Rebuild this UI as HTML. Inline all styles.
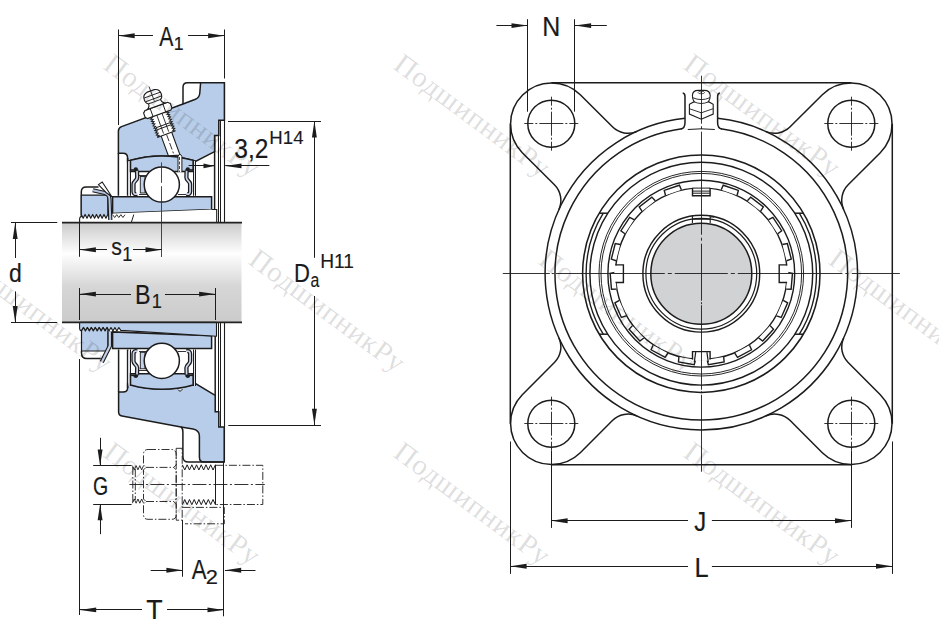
<!DOCTYPE html>
<html><head><meta charset="utf-8"><title>Flanged bearing unit</title>
<style>
html,body{margin:0;padding:0;background:#fff;}
body{width:939px;height:629px;overflow:hidden;font-family:"Liberation Sans",sans-serif;}
svg{display:block;}
svg text{font-family:"Liberation Sans",sans-serif;}
svg text.wm{font-family:"Liberation Serif",serif;font-size:29px;fill:#000;fill-opacity:0.145;letter-spacing:0.7px;}
</style></head>
<body>
<svg width="939" height="629" viewBox="0 0 939 629">
<defs>
<linearGradient id="shaft" x1="0" y1="0" x2="0" y2="1">
<stop offset="0" stop-color="#cbcbcb"/><stop offset="0.31" stop-color="#fefefe"/><stop offset="0.64" stop-color="#d6d6d6"/><stop offset="1" stop-color="#cbcbcb"/>
</linearGradient>
</defs>
<rect width="939" height="629" fill="#fff"/>
<rect x="62" y="222.7" width="179.5" height="99.7" fill="url(#shaft)"/>
<rect x="214.6" y="135.6" width="4.2" height="87.1" fill="#fff"/>
<rect x="218.8" y="120.3" width="5.6" height="102.4" fill="#fff"/>
<line x1="218.5" y1="120.3" x2="218.5" y2="222.7" stroke="#1c1c1c" stroke-width="1.0" />
<line x1="220.5" y1="120.3" x2="220.5" y2="222.7" stroke="#1c1c1c" stroke-width="1.0" />
<line x1="218.2" y1="120.5" x2="220" y2="120.5" stroke="#1c1c1c" stroke-width="1.0" />
<line x1="224.5" y1="82.8" x2="224.5" y2="222.7" stroke="#1c1c1c" stroke-width="1.1" />
<line x1="214.6" y1="135.6" x2="214.6" y2="222.7" stroke="#1c1c1c" stroke-width="1.5" />
<line x1="218.5" y1="322.4" x2="218.5" y2="411.7" stroke="#1c1c1c" stroke-width="1.0" />
<line x1="220.5" y1="322.4" x2="220.5" y2="427" stroke="#1c1c1c" stroke-width="1.0" />
<line x1="224.5" y1="322.4" x2="224.5" y2="462.1" stroke="#1c1c1c" stroke-width="1.1" />
<line x1="215.2" y1="322.4" x2="215.2" y2="411.7" stroke="#1c1c1c" stroke-width="1.5" />
<path d="M224.4 82.8 L200.6 82.8 L199.8 93 Q199.5 97.5 195.4 99.3 L183 104 L121.5 126.6 Q118.4 127.8 118.4 131 L118.4 153.3 L123 153.3 Q127.6 153.3 127.6 158 L127.6 161.2 A116.5 116.5 0 0 1 196 161.2 L214.6 151.6 L214.6 135.6 L218.8 135.6 L218.8 120.3 L224.4 120.3 Z" fill="#b8cde9" stroke="#1c1c1c" stroke-width="1.5" />
<path d="M200.6 82.8 L187.5 82.8 Q183 82.8 183 87.3 L183 104" fill="none" stroke="#1c1c1c" stroke-width="1.5" />
<path d="M118.4 153.3 L118.4 195.8 M127.6 158 L127.6 195.8" fill="none" stroke="#1c1c1c" stroke-width="1.5" />
<rect x="128.3" y="161" width="2.2" height="34.5" fill="#dfe3ea"/>
<rect x="193.1" y="161" width="2.6" height="34.5" fill="#dfe3ea"/>
<line x1="130.5" y1="160.6" x2="130.5" y2="195.8" stroke="#1c1c1c" stroke-width="1.0" />
<line x1="193.5" y1="160.6" x2="193.5" y2="195.8" stroke="#1c1c1c" stroke-width="1.0" />
<line x1="195.5" y1="160.6" x2="195.5" y2="195.8" stroke="#1c1c1c" stroke-width="1.0" />
<path d="M118.6 392 L123 392 Q127.6 392 127.6 388 L127.6 383.9 A116.5 116.5 0 0 0 196 383.9 L215.2 395.4 L215.2 411.7 L218.8 411.7 L218.8 427 L224.2 427 L224.2 462.1 L204 462.1 Q199.4 462.1 199.4 457 L199.4 436 Q199.4 430.3 193 429 L181 426.9 L122 416 Q118.6 415.3 118.6 412 Z" fill="#b8cde9" stroke="#1c1c1c" stroke-width="1.5" />
<path d="M181 426.9 Q182.9 428.5 182.9 432 L182.9 456.5 Q182.9 462.1 188.5 462.1 L224.2 462.1" fill="none" stroke="#1c1c1c" stroke-width="1.5" />
<path d="M118.6 392 L118.6 349.5 M127.6 388 L127.6 349.5" fill="none" stroke="#1c1c1c" stroke-width="1.5" />
<rect x="128.3" y="351" width="2.2" height="34.5" fill="#dfe3ea"/>
<rect x="193.1" y="351" width="2.6" height="34.5" fill="#dfe3ea"/>
<line x1="130.5" y1="349.5" x2="130.5" y2="386" stroke="#1c1c1c" stroke-width="1.0" />
<line x1="193.5" y1="349.5" x2="193.5" y2="386" stroke="#1c1c1c" stroke-width="1.0" />
<line x1="195.5" y1="349.5" x2="195.5" y2="386" stroke="#1c1c1c" stroke-width="1.0" />
<path d="M130.5 160.3 A116.5 116.5 0 0 1 193.1 160.3 L193.1 171.5 L130.5 171.5 Z" fill="#b8cde9" stroke="#1c1c1c" stroke-width="1.5" />
<path d="M112.6 196.8 L211.6 196.8 L211.6 209.5 L112.6 213.4 Z" fill="#b8cde9" stroke="#1c1c1c" stroke-width="1.5" />
<rect x="140.3" y="176.5" width="4.8" height="16.5" fill="#c5d3ea" stroke="#1c1c1c" stroke-width="0.9"/>
<line x1="139" y1="175.5" x2="147" y2="175.5" stroke="#1c1c1c" stroke-width="0.9" />
<line x1="139" y1="194.5" x2="147" y2="194.5" stroke="#1c1c1c" stroke-width="0.9" />
<line x1="178" y1="194.5" x2="188" y2="194.5" stroke="#1c1c1c" stroke-width="0.9" />
<path d="M137 170.7 L137.2 177.5 C137.2 180.5 133.6 181 133.5 184 L133.5 191.5 C133.5 193.7 135 194.7 136.9 193.9" fill="none" stroke="#1c1c1c" stroke-width="4.3" stroke-linecap="butt"/>
<path d="M137 170.7 L137.2 177.5 C137.2 180.5 133.6 181 133.5 184 L133.5 191.5 C133.5 193.7 135 194.7 136.9 193.9" fill="none" stroke="#ccd6ea" stroke-width="1.7" stroke-linecap="round"/>
<line x1="130.6" y1="170" x2="138.3" y2="170" stroke="#1c1c1c" stroke-width="1.6" />
<ellipse cx="135.8" cy="169.1" rx="2.1" ry="1.8" fill="#1c1c1c"/>
<path d="M186.6 170.7 L186.4 177.5 C186.4 180.5 190 181 190.1 184 L190.1 191.5 C190.1 193.7 188.6 194.7 186.7 193.9" fill="none" stroke="#1c1c1c" stroke-width="4.3" stroke-linecap="butt"/>
<path d="M186.6 170.7 L186.4 177.5 C186.4 180.5 190 181 190.1 184 L190.1 191.5 C190.1 193.7 188.6 194.7 186.7 193.9" fill="none" stroke="#ccd6ea" stroke-width="1.7" stroke-linecap="round"/>
<line x1="193" y1="170" x2="185.3" y2="170" stroke="#1c1c1c" stroke-width="1.6" />
<ellipse cx="187.8" cy="169.1" rx="2.1" ry="1.8" fill="#1c1c1c"/>
<circle cx="161.8" cy="184.5" r="17.6" fill="#fff" stroke="#1c1c1c" stroke-width="1.5" />
<path d="M130.5 385 A116.5 116.5 0 0 0 193.1 385 L193.1 373.8 L130.5 373.8 Z" fill="#b8cde9" stroke="#1c1c1c" stroke-width="1.5" />
<path d="M112.6 348.5 L211.6 348.5 L211.6 335.8 L112.6 331.9 Z" fill="#b8cde9" stroke="#1c1c1c" stroke-width="1.5" />
<rect x="140.3" y="352.3" width="4.8" height="16.5" fill="#c5d3ea" stroke="#1c1c1c" stroke-width="0.9"/>
<line x1="139" y1="370.5" x2="147" y2="370.5" stroke="#1c1c1c" stroke-width="0.9" />
<line x1="139" y1="351.5" x2="147" y2="351.5" stroke="#1c1c1c" stroke-width="0.9" />
<line x1="178" y1="351.5" x2="188" y2="351.5" stroke="#1c1c1c" stroke-width="0.9" />
<path d="M137 374.6 L137.2 367.8 C137.2 364.8 133.6 364.3 133.5 361.3 L133.5 353.8 C133.5 351.6 135 350.6 136.9 351.4" fill="none" stroke="#1c1c1c" stroke-width="4.3" stroke-linecap="butt"/>
<path d="M137 374.6 L137.2 367.8 C137.2 364.8 133.6 364.3 133.5 361.3 L133.5 353.8 C133.5 351.6 135 350.6 136.9 351.4" fill="none" stroke="#ccd6ea" stroke-width="1.7" stroke-linecap="round"/>
<line x1="130.6" y1="375.3" x2="138.3" y2="375.3" stroke="#1c1c1c" stroke-width="1.6" />
<ellipse cx="135.8" cy="376.2" rx="2.1" ry="1.8" fill="#1c1c1c"/>
<path d="M186.6 374.6 L186.4 367.8 C186.4 364.8 190 364.3 190.1 361.3 L190.1 353.8 C190.1 351.6 188.6 350.6 186.7 351.4" fill="none" stroke="#1c1c1c" stroke-width="4.3" stroke-linecap="butt"/>
<path d="M186.6 374.6 L186.4 367.8 C186.4 364.8 190 364.3 190.1 361.3 L190.1 353.8 C190.1 351.6 188.6 350.6 186.7 351.4" fill="none" stroke="#ccd6ea" stroke-width="1.7" stroke-linecap="round"/>
<line x1="193" y1="375.3" x2="185.3" y2="375.3" stroke="#1c1c1c" stroke-width="1.6" />
<ellipse cx="187.8" cy="376.2" rx="2.1" ry="1.8" fill="#1c1c1c"/>
<circle cx="161.8" cy="360.8" r="17.6" fill="#fff" stroke="#1c1c1c" stroke-width="1.5" />
<path d="M79.6 222.7 L79.6 216.6 L112.6 216.6 L112.6 213.4 L211.6 209.5 L216.7 209.5 L216.7 222.7 Z" fill="#fff"/>
<path d="M79.6 222.7 L79.6 218.8 Q79.7 216.9 81.3 216.6" fill="none" stroke="#1c1c1c" stroke-width="1.1" />
<path d="M211.6 209.5 L216.7 209.5 L216.7 222.7" fill="none" stroke="#1c1c1c" stroke-width="1.1" />
<line x1="133.8" y1="214.5" x2="131.4" y2="222.2" stroke="#1c1c1c" stroke-width="1.0" />
<path d="M81.3 217 L81.3 192 Q81.3 187.1 86.2 187.1 L98.5 187.1" fill="none" stroke="#1c1c1c" stroke-width="1.5" />
<polygon points="81.3,195.1 81.3,214.4 83.19,218.2 85.09,214.4 86.98,218.2 88.87,214.4 90.76,218.2 92.66,214.4 94.55,218.2 96.44,214.4 98.34,218.2 100.23,214.4 102.12,218.2 104.01,214.4 105.91,218.2 107.8,214.4 107.8,195.1" fill="#b8cde9" stroke="#1c1c1c" stroke-width="1.15" stroke-linejoin="round"/>
<polyline points="112.6,214.7 114.67,217.5 116.73,214.7 118.8,217.5 120.87,214.7 122.93,217.5 125,214.7" fill="none" stroke="#1c1c1c" stroke-width="0.9"/>
<path d="M92.8 190.3 L104.8 193 Q109.2 194.2 109.5 199 L110.3 220" fill="none" stroke="#1c1c1c" stroke-width="4.2" stroke-linejoin="round"/>
<path d="M92.8 190.3 L104.8 193 Q109.2 194.2 109.5 199 L110.3 220" fill="none" stroke="#b4c3de" stroke-width="2.0" stroke-linejoin="round"/>
<path d="M98.4 184.6 L102.2 182 L111.9 196.8 L106 192.5 Z" fill="#fff" stroke="#1c1c1c" stroke-width="1.1" />
<path d="M79.6 322.4 L79.6 328.6 Q79.8 330.7 81.5 330.9 L81.5 330.9 L83.47 327.5 L85.43 330.9 L87.39 327.5 L89.36 330.9 L91.33 327.5 L93.29 330.9 L95.25 327.5 L97.22 330.9 L99.19 327.5 L101.15 330.9 L103.11 327.5 L105.08 330.9 L107.05 327.5 L109.01 330.9 L110.97 327.5 L112.94 330.9 L114.91 327.5 L116.87 330.9 L118.83 327.5 L120.8 330.4 L216.5 336.3 L216.5 322.4 Z" fill="#b8cde9" stroke="#1c1c1c" stroke-width="1.1" stroke-linejoin="round"/>
<path d="M81.5 351 L81.5 330.9 L83.47 327.5 L85.43 330.9 L87.39 327.5 L89.36 330.9 L91.33 327.5 L93.29 330.9 L95.25 327.5 L97.22 330.9 L99.19 327.5 L101.15 330.9 L103.11 327.5 L105.08 330.9 L107.05 327.5 L107.9 329.5 L107.9 351 Z" fill="#b8cde9" stroke="#1c1c1c" stroke-width="1.2" stroke-linejoin="round"/>
<path d="M81.5 351 L81.5 353 Q81.5 358.6 87 358.6 L100.7 358.6" fill="none" stroke="#1c1c1c" stroke-width="1.5" />
<path d="M109.8 331.5 L109.8 346 L101.8 362" fill="none" stroke="#1c1c1c" stroke-width="4.4" stroke-linejoin="round"/>
<path d="M109.8 331.5 L109.8 346 L101.8 362" fill="none" stroke="#c4d0e8" stroke-width="2.2" stroke-linejoin="round"/>
<line x1="62" y1="222.7" x2="242" y2="222.7" stroke="#222" stroke-width="1.7" />
<line x1="62" y1="322.4" x2="242" y2="322.4" stroke="#222" stroke-width="1.7" />
<g transform="translate(149.4,87.6) rotate(-20.1)">
<path d="M-5.6 48 L-5.6 70.5 L5.6 74 L5.6 48 Z" fill="#fff" stroke="#1c1c1c" stroke-width="1.1"/>
<line x1="0" y1="50" x2="0" y2="70" stroke="#1c1c1c" stroke-width="0.8" stroke-dasharray="7 2"/>
<polygon points="-9.7,27.5 -7.4,28.72 -9.7,29.94 -7.4,31.17 -9.7,32.39 -7.4,33.61 -9.7,34.83 -7.4,36.06 -9.7,37.28 -7.4,38.5 -9.7,39.72 -7.4,40.94 -9.7,42.17 -7.4,43.39 -9.7,44.61 -7.4,45.83 -9.7,47.06 -7.4,48.28 -9.7,49.5 9.7,49.5 7.4,48.28 9.7,47.06 7.4,45.83 9.7,44.61 7.4,43.39 9.7,42.17 7.4,40.94 9.7,39.72 7.4,38.5 9.7,37.28 7.4,36.06 9.7,34.83 7.4,33.61 9.7,32.39 7.4,31.17 9.7,29.94 7.4,28.72 9.7,27.5" fill="#fff" stroke="#1c1c1c" stroke-width="1.05"/>
<line x1="-8" y1="40" x2="8" y2="40" stroke="#1c1c1c" stroke-width="0.9"/>
<line x1="-8" y1="42.3" x2="8" y2="42.3" stroke="#1c1c1c" stroke-width="0.9"/>
<line x1="-2.5" y1="28" x2="-2.5" y2="48" stroke="#1c1c1c" stroke-width="0.8"/>
<line x1="3" y1="28" x2="3" y2="48" stroke="#1c1c1c" stroke-width="0.8"/>
<path d="M-12 20 L12 20 L14.2 22 L14.2 26.5 L12.5 28.5 L-12.5 28.5 L-14.2 26.5 L-14.2 22 Z" fill="#fff" stroke="#1c1c1c" stroke-width="1.15"/>
<line x1="-6.5" y1="20" x2="-6.5" y2="28.5" stroke="#1c1c1c" stroke-width="0.9"/>
<line x1="7" y1="20" x2="7" y2="28.5" stroke="#1c1c1c" stroke-width="0.9"/>
<path d="M-3.5 3.5 Q-9 4.5 -9 9.5 Q-9 13.8 -6.5 14.8 Q-5.8 17.5 -9.5 20 L9.5 20 Q5.8 17.5 6.5 14.8 Q9 13.8 9 9.5 Q9 4.5 3.5 3.5 Z" fill="#fff" stroke="#1c1c1c" stroke-width="1.15"/>
<line x1="-8.6" y1="8" x2="8.6" y2="8" stroke="#1c1c1c" stroke-width="0.85"/>
<line x1="-8.3" y1="12" x2="8.3" y2="12" stroke="#1c1c1c" stroke-width="0.85"/>
<line x1="-6.5" y1="15" x2="6.5" y2="15" stroke="#1c1c1c" stroke-width="0.85"/>
<line x1="0" y1="-1" x2="0" y2="14" stroke="#1c1c1c" stroke-width="0.8"/>
</g>
<path d="M178 172.2 L178 156.3 Q179.9 152.5 181.9 156.3 L181.9 172.2" fill="#fff" stroke="#1c1c1c" stroke-width="1.0" />
<line x1="179.5" y1="157" x2="179.5" y2="172" stroke="#1c1c1c" stroke-width="0.8" stroke-dasharray="3 1.5"/>
<path d="M178 389.5 Q180 393 182.5 389" fill="#fff" stroke="#1c1c1c" stroke-width="1.0" />
<path d="M148 449.5 L172 449.5 Q176.2 450 176.2 454.5 L176.2 464.9 L173.7 467.4 L176.2 469.9 L176.2 499 L173.7 501.5 L176.2 504 L176.2 514.5 Q176.2 519.3 172 519.3 L148 519.3 Q143.5 519.3 143.5 514.5 L143.5 504 L146 501.5 L143.5 499 L143.5 469.9 L146 467.4 L143.5 464.9 L143.5 454.5 Q143.5 449.5 148 449.5 Z" fill="none" stroke="#1c1c1c" stroke-width="0.9" stroke-dasharray="8 2 1.5 2"/>
<path d="M146 467.4 L173.7 467.4 M146 501.5 L173.7 501.5" fill="none" stroke="#1c1c1c" stroke-width="0.9" stroke-dasharray="8 2 1.5 2"/>
<polyline points="132.4,465.6 134.25,469.8 136.1,465.6 137.95,469.8 139.8,465.6 141.65,469.8 143.5,465.6" fill="none" stroke="#1c1c1c" stroke-width="0.9"/>
<polyline points="132.4,503.2 134.25,499 136.1,503.2 137.95,499 139.8,503.2 141.65,499 143.5,503.2" fill="none" stroke="#1c1c1c" stroke-width="0.9"/>
<path d="M132.8 467 L132.8 502" fill="none" stroke="#1c1c1c" stroke-width="0.9" stroke-dasharray="8 2 1.5 2"/>
<path d="M135.3 469 L135.3 500" fill="none" stroke="#1c1c1c" stroke-width="0.9" stroke-dasharray="8 2 1.5 2"/>
<path d="M176.2 448.3 L182.2 448.3 L182.2 520.2 L176.2 520.2 Z" fill="none" stroke="#1c1c1c" stroke-width="0.9" stroke-dasharray="8 2 1.5 2"/>
<polyline points="182.4,464.8 184.76,470 187.11,464.8 189.47,470 191.83,464.8 194.19,470 196.54,464.8 198.9,470 201.26,464.8 203.61,470 205.97,464.8 208.33,470 210.69,464.8 213.04,470 215.4,464.8" fill="none" stroke="#1c1c1c" stroke-width="1"/>
<polyline points="182.4,504.7 184.76,499.5 187.11,504.7 189.47,499.5 191.83,504.7 194.19,499.5 196.54,504.7 198.9,499.5 201.26,504.7 203.61,499.5 205.97,504.7 208.33,499.5 210.69,504.7 213.04,499.5 215.4,504.7" fill="none" stroke="#1c1c1c" stroke-width="1"/>
<line x1="215.5" y1="464.8" x2="215.5" y2="504.7" stroke="#1c1c1c" stroke-width="1.0" />
<path d="M215.4 465.3 L262.8 465.3 L262.8 504.5 L215.4 504.5" fill="none" stroke="#1c1c1c" stroke-width="0.9" stroke-dasharray="8 2 1.5 2"/>
<path d="M182.4 507.4 L224.3 507.4 L224.3 523.8 L185 523.8" fill="none" stroke="#1c1c1c" stroke-width="0.9" stroke-dasharray="8 2 1.5 2"/>
<line x1="129.4" y1="484.5" x2="264.8" y2="484.5" stroke="#1c1c1c" stroke-width="0.9" stroke-dasharray="14 2.5 2 2.5"/>
<line x1="161.5" y1="162.4" x2="161.5" y2="257" stroke="#333" stroke-width="0.9" />
<rect x="160.8" y="182.8" width="2" height="3.4" fill="#fff"/>
<line x1="118.5" y1="29.5" x2="118.5" y2="125" stroke="#1c1c1c" stroke-width="1.0" />
<line x1="224.5" y1="29.5" x2="224.5" y2="78.5" stroke="#1c1c1c" stroke-width="1.0" />
<line x1="118.4" y1="35.5" x2="153" y2="35.5" stroke="#1c1c1c" stroke-width="1.0" />
<polygon points="118.4,35.8 134.7,33.35 134.7,38.25" fill="#1c1c1c"/>
<line x1="188" y1="35.5" x2="224.4" y2="35.5" stroke="#1c1c1c" stroke-width="1.0" />
<polygon points="224.4,35.8 208.1,38.25 208.1,33.35" fill="#1c1c1c"/>
<text transform="translate(159.16,45.7) scale(0.76,1)" font-size="27.91" fill="#1a1a1a" stroke="#1a1a1a" stroke-width="0.2">A</text>
<text transform="translate(173.86,50.2) scale(0.95,1)" font-size="18.6" fill="#1a1a1a" stroke="#1a1a1a" stroke-width="0.2">1</text>
<line x1="188.6" y1="165.5" x2="214.5" y2="165.5" stroke="#1c1c1c" stroke-width="1.0" />
<polygon points="214.5,165.9 203.5,168.35 203.5,163.45" fill="#1c1c1c"/>
<line x1="225.2" y1="165.5" x2="269.3" y2="165.5" stroke="#1c1c1c" stroke-width="1.0" />
<polygon points="225.2,165.9 241.5,163.45 241.5,168.35" fill="#1c1c1c"/>
<text transform="translate(234.27,157.77) scale(0.89,1)" font-size="27.6" fill="#1a1a1a" stroke="#1a1a1a" stroke-width="0.2">3,2</text>
<text transform="translate(269.37,144.1) scale(1,1)" font-size="18.6" fill="#1a1a1a" stroke="#1a1a1a" stroke-width="0.15">H14</text>
<line x1="228" y1="121.5" x2="321" y2="121.5" stroke="#1c1c1c" stroke-width="1.0" />
<line x1="228.3" y1="425.5" x2="321" y2="425.5" stroke="#1c1c1c" stroke-width="1.0" />
<line x1="314.5" y1="121.1" x2="314.5" y2="257.8" stroke="#1c1c1c" stroke-width="1.0" />
<polygon points="314.4,121.1 316.85,137.4 311.95,137.4" fill="#1c1c1c"/>
<line x1="314.5" y1="296" x2="314.5" y2="425" stroke="#1c1c1c" stroke-width="1.0" />
<polygon points="314.4,425 311.95,408.7 316.85,408.7" fill="#1c1c1c"/>
<text transform="translate(293.99,281.6) scale(0.83,1)" font-size="26.6" fill="#1a1a1a" stroke="#1a1a1a" stroke-width="0.2">D</text>
<text transform="translate(310.53,286.51) scale(0.82,1)" font-size="19.34" fill="#1a1a1a" stroke="#1a1a1a" stroke-width="0.15">a</text>
<text transform="translate(320.22,268.4) scale(0.97,1)" font-size="19.77" fill="#1a1a1a" stroke="#1a1a1a" stroke-width="0.15">H11</text>
<line x1="11" y1="222.5" x2="57.3" y2="222.5" stroke="#1c1c1c" stroke-width="1.0" />
<line x1="11" y1="322.5" x2="57.3" y2="322.5" stroke="#1c1c1c" stroke-width="1.0" />
<line x1="15.5" y1="222.7" x2="15.5" y2="258" stroke="#1c1c1c" stroke-width="1.0" />
<polygon points="15.2,222.7 17.65,239 12.75,239" fill="#1c1c1c"/>
<line x1="15.5" y1="291.4" x2="15.5" y2="322.4" stroke="#1c1c1c" stroke-width="1.0" />
<polygon points="15.2,322.4 12.75,306.1 17.65,306.1" fill="#1c1c1c"/>
<text transform="translate(8.93,282.34) scale(0.89,1)" font-size="25.85" fill="#1a1a1a" stroke="#1a1a1a" stroke-width="0.2">d</text>
<line x1="79.5" y1="222.7" x2="79.5" y2="256.8" stroke="#1c1c1c" stroke-width="1.0" />
<line x1="79.6" y1="249.5" x2="107" y2="249.5" stroke="#1c1c1c" stroke-width="1.0" />
<polygon points="79.6,249.8 95.9,247.35 95.9,252.25" fill="#1c1c1c"/>
<line x1="133" y1="249.5" x2="161.8" y2="249.5" stroke="#1c1c1c" stroke-width="1.0" />
<polygon points="161.8,249.8 145.5,252.25 145.5,247.35" fill="#1c1c1c"/>
<text transform="translate(111.33,255.37) scale(0.91,1)" font-size="23.4" fill="#1a1a1a" stroke="#1a1a1a" stroke-width="0.2">s</text>
<text transform="translate(122.23,260.6) scale(0.91,1)" font-size="19.77" fill="#1a1a1a" stroke="#1a1a1a" stroke-width="0.2">1</text>
<line x1="79.5" y1="288" x2="79.5" y2="320" stroke="#1c1c1c" stroke-width="1.0" />
<line x1="215.5" y1="288" x2="215.5" y2="320" stroke="#1c1c1c" stroke-width="1.0" />
<line x1="79.6" y1="294.5" x2="131" y2="294.5" stroke="#1c1c1c" stroke-width="1.0" />
<polygon points="79.6,294.1 95.9,291.65 95.9,296.55" fill="#1c1c1c"/>
<line x1="165" y1="294.5" x2="215.4" y2="294.5" stroke="#1c1c1c" stroke-width="1.0" />
<polygon points="215.4,294.1 199.1,296.55 199.1,291.65" fill="#1c1c1c"/>
<text transform="translate(135.09,304.1) scale(0.84,1)" font-size="27.76" fill="#1a1a1a" stroke="#1a1a1a" stroke-width="0.2">B</text>
<text transform="translate(151.63,308.2) scale(0.89,1)" font-size="20.35" fill="#1a1a1a" stroke="#1a1a1a" stroke-width="0.2">1</text>
<line x1="79.5" y1="359" x2="79.5" y2="615" stroke="#1c1c1c" stroke-width="1.0" />
<line x1="223.5" y1="462" x2="223.5" y2="616.3" stroke="#1c1c1c" stroke-width="1.0" />
<line x1="79.9" y1="609.5" x2="142" y2="609.5" stroke="#1c1c1c" stroke-width="1.0" />
<polygon points="79.9,609.9 96.2,607.45 96.2,612.35" fill="#1c1c1c"/>
<line x1="167" y1="609.5" x2="223.8" y2="609.5" stroke="#1c1c1c" stroke-width="1.0" />
<polygon points="223.8,609.9 207.5,612.35 207.5,607.45" fill="#1c1c1c"/>
<text transform="translate(146.21,618.6) scale(0.98,1)" font-size="27.33" fill="#1a1a1a" stroke="#1a1a1a" stroke-width="0.2">T</text>
<line x1="182.5" y1="520" x2="182.5" y2="576.7" stroke="#1c1c1c" stroke-width="1.0" />
<line x1="150.7" y1="570.5" x2="182.7" y2="570.5" stroke="#1c1c1c" stroke-width="1.0" />
<polygon points="182.7,570.3 166.4,572.75 166.4,567.85" fill="#1c1c1c"/>
<line x1="224.9" y1="570.5" x2="255.5" y2="570.5" stroke="#1c1c1c" stroke-width="1.0" />
<polygon points="224.9,570.3 241.2,567.85 241.2,572.75" fill="#1c1c1c"/>
<text transform="translate(191.66,578.8) scale(0.79,1)" font-size="28.05" fill="#1a1a1a" stroke="#1a1a1a" stroke-width="0.2">A</text>
<text transform="translate(205.7,584.2) scale(1.09,1)" font-size="20.06" fill="#1a1a1a" stroke="#1a1a1a" stroke-width="0.2">2</text>
<line x1="93.2" y1="465.5" x2="131.6" y2="465.5" stroke="#1c1c1c" stroke-width="1.0" />
<line x1="93.2" y1="504.5" x2="131.6" y2="504.5" stroke="#1c1c1c" stroke-width="1.0" />
<line x1="100.5" y1="437.8" x2="100.5" y2="465.9" stroke="#1c1c1c" stroke-width="1.0" />
<polygon points="100.1,465.9 97.65,449.6 102.55,449.6" fill="#1c1c1c"/>
<line x1="100.5" y1="504" x2="100.5" y2="534.2" stroke="#1c1c1c" stroke-width="1.0" />
<polygon points="100.1,504 102.55,520.3 97.65,520.3" fill="#1c1c1c"/>
<text transform="translate(93.12,495.34) scale(0.76,1)" font-size="25.71" fill="#1a1a1a" stroke="#1a1a1a" stroke-width="0.2">G</text>
<g transform="translate(701.3,273.7)">
<circle cx="0" cy="0" r="50.5" fill="#d1d2d4" stroke="#1c1c1c" stroke-width="1.5" />
<path d="M-150.0 -191.0 L150.0 -191.0 M191.0 -150.0 L191.0 150.0 M150.0 191.0 L-150.0 191.0 M-191.0 150.0 L-191.0 -150.0" fill="none" stroke="#1c1c1c" stroke-width="1.5" />
<g transform="rotate(0)">
<path d="M-64.26 -142.37 A22.0 22.0 0 0 1 -88.87 -146.87 L-121.01 -178.99 A41.0 41.0 0 0 0 -178.99 -121.01 L-146.87 -88.87 A22.0 22.0 0 0 1 -142.37 -64.26" fill="none" stroke="#1c1c1c" stroke-width="1.5" />
</g>
<g transform="rotate(90)">
<path d="M-64.26 -142.37 A22.0 22.0 0 0 1 -88.87 -146.87 L-121.01 -178.99 A41.0 41.0 0 0 0 -178.99 -121.01 L-146.87 -88.87 A22.0 22.0 0 0 1 -142.37 -64.26" fill="none" stroke="#1c1c1c" stroke-width="1.5" />
</g>
<g transform="rotate(180)">
<path d="M-64.26 -142.37 A22.0 22.0 0 0 1 -88.87 -146.87 L-121.01 -178.99 A41.0 41.0 0 0 0 -178.99 -121.01 L-146.87 -88.87 A22.0 22.0 0 0 1 -142.37 -64.26" fill="none" stroke="#1c1c1c" stroke-width="1.5" />
</g>
<g transform="rotate(270)">
<path d="M-64.26 -142.37 A22.0 22.0 0 0 1 -88.87 -146.87 L-121.01 -178.99 A41.0 41.0 0 0 0 -178.99 -121.01 L-146.87 -88.87 A22.0 22.0 0 0 1 -142.37 -64.26" fill="none" stroke="#1c1c1c" stroke-width="1.5" />
</g>
<circle cx="-150" cy="-150" r="23.5" fill="none" stroke="#1c1c1c" stroke-width="1.5" />
<line x1="-177" y1="-150.2" x2="-123" y2="-150.2" stroke="#1c1c1c" stroke-width="0.9" stroke-dasharray="9 2 2 2 24 2 2 2 9"/>
<line x1="-149.8" y1="-177" x2="-149.8" y2="-123" stroke="#1c1c1c" stroke-width="0.9" stroke-dasharray="9 2 2 2 24 2 2 2 9"/>
<circle cx="-150" cy="150" r="23.5" fill="none" stroke="#1c1c1c" stroke-width="1.5" />
<line x1="-177" y1="149.8" x2="-123" y2="149.8" stroke="#1c1c1c" stroke-width="0.9" stroke-dasharray="9 2 2 2 24 2 2 2 9"/>
<line x1="-149.8" y1="123" x2="-149.8" y2="177" stroke="#1c1c1c" stroke-width="0.9" stroke-dasharray="9 2 2 2 24 2 2 2 9"/>
<circle cx="150" cy="-150" r="23.5" fill="none" stroke="#1c1c1c" stroke-width="1.5" />
<line x1="123" y1="-150.2" x2="177" y2="-150.2" stroke="#1c1c1c" stroke-width="0.9" stroke-dasharray="9 2 2 2 24 2 2 2 9"/>
<line x1="150.2" y1="-177" x2="150.2" y2="-123" stroke="#1c1c1c" stroke-width="0.9" stroke-dasharray="9 2 2 2 24 2 2 2 9"/>
<circle cx="150" cy="150" r="23.5" fill="none" stroke="#1c1c1c" stroke-width="1.5" />
<line x1="123" y1="149.8" x2="177" y2="149.8" stroke="#1c1c1c" stroke-width="0.9" stroke-dasharray="9 2 2 2 24 2 2 2 9"/>
<line x1="150.2" y1="123" x2="150.2" y2="177" stroke="#1c1c1c" stroke-width="0.9" stroke-dasharray="9 2 2 2 24 2 2 2 9"/>
<path d="M16.4 -155.34 A156.2 156.2 0 1 1 -16.4 -155.34" fill="none" stroke="#1c1c1c" stroke-width="1.5" />
<path d="M19.5 -144.99 A146.3 146.3 0 1 1 -19.5 -144.99" fill="none" stroke="#1c1c1c" stroke-width="1.5" />
<path d="M-18.6 -180.6 Q-16.3 -180.3 -16.3 -177 L-16.3 -151 Q-16.3 -145.5 -20.5 -144.8" fill="none" stroke="#1c1c1c" stroke-width="1.5" />
<path d="M18.6 -180.6 Q16.3 -180.3 16.3 -177 L16.3 -151 Q16.3 -145.5 20.5 -144.8" fill="none" stroke="#1c1c1c" stroke-width="1.5" />
<path d="M-13.5 -144.2 Q0 -145.6 13.5 -144.2" fill="none" stroke="#1c1c1c" stroke-width="1.0" />
<path d="M-8.9 -178 Q-8.9 -183.3 -3 -183.3 L3 -183.3 Q8.9 -183.3 8.9 -178 Q8.9 -174 7 -171.8 L7.6 -171.8 L11.9 -169.4 L11.9 -159.6 L0 -154.5 L-11.9 -159.6 L-11.9 -169.4 L-7.6 -171.8 L-7 -171.8 Q-8.9 -174 -8.9 -178 Z" fill="#fff" stroke="#1c1c1c" stroke-width="1.1" />
<path d="M-11.9 -165 L0 -160.9 L11.9 -165 M0 -160.9 L0 -154.5" fill="none" stroke="#1c1c1c" stroke-width="0.9" />
<path d="M-8.6 -176 Q0 -172.2 8.6 -176 M-7 -171.8 Q0 -168.6 7 -171.8" fill="none" stroke="#1c1c1c" stroke-width="0.9" />
<ellipse cx="0" cy="-181.2" rx="3.2" ry="1.3" fill="none" stroke="#1c1c1c" stroke-width="0.7"/>
<circle cx="0" cy="-181.2" r="0.7" fill="#1c1c1c" stroke="#1c1c1c" stroke-width="0" />
<circle cx="0" cy="0" r="118.7" fill="none" stroke="#1c1c1c" stroke-width="1.55" />
<circle cx="0" cy="0" r="111.4" fill="none" stroke="#1c1c1c" stroke-width="1.45" />
<path d="M98.03 -60.5 A115.2 115.2 0 0 1 98.03 60.5" fill="none" stroke="#1c1c1c" stroke-width="1.35" />
<line x1="102.12" y1="60.5" x2="93.54" y2="60.5" stroke="#1c1c1c" stroke-width="1.5" />
<line x1="102.12" y1="-60.5" x2="93.54" y2="-60.5" stroke="#1c1c1c" stroke-width="1.5" />
<path d="M-98.03 -60.5 A115.2 115.2 0 0 0 -98.03 60.5" fill="none" stroke="#1c1c1c" stroke-width="1.35" />
<line x1="-102.12" y1="60.5" x2="-93.54" y2="60.5" stroke="#1c1c1c" stroke-width="1.5" />
<line x1="-102.12" y1="-60.5" x2="-93.54" y2="-60.5" stroke="#1c1c1c" stroke-width="1.5" />
<circle cx="0" cy="0" r="102.3" fill="none" stroke="#1c1c1c" stroke-width="0.95" />
<circle cx="0" cy="0" r="100.3" fill="none" stroke="#1c1c1c" stroke-width="0.95" />
<circle cx="0" cy="0" r="93.4" fill="none" stroke="#1c1c1c" stroke-width="1.4" />
<circle cx="0" cy="0" r="85.8" fill="none" stroke="#1c1c1c" stroke-width="1.4" />
<g transform="rotate(-71.05)">
<path d="M85.8 -8.4 L90.8 -8 L90.8 8 L85.8 8.4" fill="#fff" stroke="#1c1c1c" stroke-width="1.4" />
</g>
<g transform="rotate(-108.95)">
<path d="M85.8 -8.4 L90.8 -8 L90.8 8 L85.8 8.4" fill="#fff" stroke="#1c1c1c" stroke-width="1.4" />
</g>
<g transform="rotate(-52.11)">
<path d="M85.8 -8.4 L90.8 -8 L90.8 8 L85.8 8.4" fill="#fff" stroke="#1c1c1c" stroke-width="1.4" />
</g>
<g transform="rotate(-127.89)">
<path d="M85.8 -8.4 L90.8 -8 L90.8 8 L85.8 8.4" fill="#fff" stroke="#1c1c1c" stroke-width="1.4" />
</g>
<g transform="rotate(-33.16)">
<path d="M85.8 -8.4 L90.8 -8 L90.8 8 L85.8 8.4" fill="#fff" stroke="#1c1c1c" stroke-width="1.4" />
</g>
<g transform="rotate(-146.84)">
<path d="M85.8 -8.4 L90.8 -8 L90.8 8 L85.8 8.4" fill="#fff" stroke="#1c1c1c" stroke-width="1.4" />
</g>
<g transform="rotate(-14.21)">
<path d="M85.8 -8.4 L90.8 -8 L90.8 8 L85.8 8.4" fill="#fff" stroke="#1c1c1c" stroke-width="1.4" />
</g>
<g transform="rotate(-165.79)">
<path d="M85.8 -8.4 L90.8 -8 L90.8 8 L85.8 8.4" fill="#fff" stroke="#1c1c1c" stroke-width="1.4" />
</g>
<g transform="rotate(4.74)">
<path d="M85.8 -8.4 L90.8 -8 L90.8 8 L85.8 8.4" fill="#fff" stroke="#1c1c1c" stroke-width="1.4" />
</g>
<g transform="rotate(-184.74)">
<path d="M85.8 -8.4 L90.8 -8 L90.8 8 L85.8 8.4" fill="#fff" stroke="#1c1c1c" stroke-width="1.4" />
</g>
<g transform="rotate(23.68)">
<path d="M85.8 -8.4 L90.8 -8 L90.8 8 L85.8 8.4" fill="#fff" stroke="#1c1c1c" stroke-width="1.4" />
</g>
<g transform="rotate(-203.68)">
<path d="M85.8 -8.4 L90.8 -8 L90.8 8 L85.8 8.4" fill="#fff" stroke="#1c1c1c" stroke-width="1.4" />
</g>
<g transform="rotate(42.63)">
<path d="M85.8 -8.4 L90.8 -8 L90.8 8 L85.8 8.4" fill="#fff" stroke="#1c1c1c" stroke-width="1.4" />
</g>
<g transform="rotate(-222.63)">
<path d="M85.8 -8.4 L90.8 -8 L90.8 8 L85.8 8.4" fill="#fff" stroke="#1c1c1c" stroke-width="1.4" />
</g>
<g transform="rotate(61.58)">
<path d="M85.8 -8.4 L90.8 -8 L90.8 8 L85.8 8.4" fill="#fff" stroke="#1c1c1c" stroke-width="1.4" />
</g>
<g transform="rotate(-241.58)">
<path d="M85.8 -8.4 L90.8 -8 L90.8 8 L85.8 8.4" fill="#fff" stroke="#1c1c1c" stroke-width="1.4" />
</g>
<g transform="rotate(80.53)">
<path d="M85.8 -8.4 L90.8 -8 L90.8 8 L85.8 8.4" fill="#fff" stroke="#1c1c1c" stroke-width="1.4" />
</g>
<g transform="rotate(-260.53)">
<path d="M85.8 -8.4 L90.8 -8 L90.8 8 L85.8 8.4" fill="#fff" stroke="#1c1c1c" stroke-width="1.4" />
</g>
<g transform="rotate(0)">
<rect x="-8.2" y="-87" width="16.4" height="8" fill="#fff"/>
<path d="M-8.8 -85.8 L-8.8 -77.9 L8.8 -77.9 L8.8 -85.8" fill="none" stroke="#1c1c1c" stroke-width="1.4" />
<path d="M-8.8 -85.6 L8.8 -85.6 M-8.8 -82.6 L8.8 -82.6 M-8.8 -80.5 L8.8 -80.5" fill="none" stroke="#1c1c1c" stroke-width="1.0" />
</g>
<g transform="rotate(90)">
<rect x="-8.2" y="-87" width="16.4" height="8" fill="#fff"/>
<path d="M-8.8 -85.8 L-8.8 -77.9 L8.8 -77.9 L8.8 -85.8" fill="none" stroke="#1c1c1c" stroke-width="1.4" />
</g>
<g transform="rotate(180)">
<rect x="-8.2" y="-87" width="16.4" height="8" fill="#fff"/>
<path d="M-8.8 -85.8 L-8.8 -77.9 L8.8 -77.9 L8.8 -85.8" fill="none" stroke="#1c1c1c" stroke-width="1.4" />
<path d="M-5.6 -78.5 L-7 -88.5 M5.6 -78.5 L7 -88.5" fill="none" stroke="#1c1c1c" stroke-width="1.2" />
</g>
<g transform="rotate(270)">
<rect x="-8.2" y="-87" width="16.4" height="8" fill="#fff"/>
<path d="M-8.8 -85.8 L-8.8 -77.9 L8.8 -77.9 L8.8 -85.8" fill="none" stroke="#1c1c1c" stroke-width="1.4" />
</g>
<circle cx="0" cy="0" r="58.4" fill="none" stroke="#1c1c1c" stroke-width="1.45" />
<circle cx="0" cy="0" r="55.4" fill="none" stroke="#1c1c1c" stroke-width="1.2" />
<g transform="rotate(0)">
<path d="M-8.9 -58.4 L-8.9 -50.8 M8.9 -58.4 L8.9 -50.8 M-8.9 -54.6 L8.9 -54.6 M8.9 -57 L13 -56.6" fill="none" stroke="#1c1c1c" stroke-width="1.1" />
</g>
<line x1="-198.5" y1="-0.2" x2="198.5" y2="-0.2" stroke="#1c1c1c" stroke-width="0.9" stroke-dasharray="47 2 2 2 109 3 4 3 53 3 4 3 104.5 3 3 3.5 48"/>
<line x1="0.2" y1="-198" x2="0.2" y2="198" stroke="#1c1c1c" stroke-width="0.9" stroke-dasharray="48 2.5 3 2.5 103 3 3 3 57 1.5 2 1 84.5 1.5 2 1.5 77"/>
</g>
<line x1="527.5" y1="19.2" x2="527.5" y2="111.7" stroke="#1c1c1c" stroke-width="1.0" />
<line x1="574.5" y1="19.2" x2="574.5" y2="111.7" stroke="#1c1c1c" stroke-width="1.0" />
<line x1="496.4" y1="25.5" x2="527.8" y2="25.5" stroke="#1c1c1c" stroke-width="1.0" />
<polygon points="527.8,25.6 511.5,28.05 511.5,23.15" fill="#1c1c1c"/>
<line x1="574.8" y1="25.5" x2="606.8" y2="25.5" stroke="#1c1c1c" stroke-width="1.0" />
<polygon points="574.8,25.6 591.1,23.15 591.1,28.05" fill="#1c1c1c"/>
<text transform="translate(542.36,35.8) scale(0.89,1)" font-size="28.05" fill="#1a1a1a" stroke="#1a1a1a" stroke-width="0.2">N</text>
<line x1="551.5" y1="450.7" x2="551.5" y2="527.9" stroke="#1c1c1c" stroke-width="1.0" />
<line x1="851.5" y1="450.7" x2="851.5" y2="527.9" stroke="#1c1c1c" stroke-width="1.0" />
<line x1="551.3" y1="520.5" x2="688" y2="520.5" stroke="#1c1c1c" stroke-width="1.0" />
<polygon points="551.3,520.7 567.6,518.25 567.6,523.15" fill="#1c1c1c"/>
<line x1="711.9" y1="520.5" x2="851.3" y2="520.5" stroke="#1c1c1c" stroke-width="1.0" />
<polygon points="851.3,520.7 835,523.15 835,518.25" fill="#1c1c1c"/>
<text transform="translate(694.34,531.02) scale(0.86,1)" font-size="27.79" fill="#1a1a1a" stroke="#1a1a1a" stroke-width="0.2">J</text>
<line x1="510.5" y1="441.5" x2="510.5" y2="573.9" stroke="#1c1c1c" stroke-width="1.0" />
<line x1="892.5" y1="441.5" x2="892.5" y2="573.9" stroke="#1c1c1c" stroke-width="1.0" />
<line x1="510.3" y1="566.5" x2="688" y2="566.5" stroke="#1c1c1c" stroke-width="1.0" />
<polygon points="510.3,566.2 526.6,563.75 526.6,568.65" fill="#1c1c1c"/>
<line x1="711.9" y1="566.5" x2="892.3" y2="566.5" stroke="#1c1c1c" stroke-width="1.0" />
<polygon points="892.3,566.2 876,568.65 876,563.75" fill="#1c1c1c"/>
<text transform="translate(694.62,577) scale(0.91,1)" font-size="27.91" fill="#1a1a1a" stroke="#1a1a1a" stroke-width="0.2">L</text>
<text transform="translate(102,68) rotate(36.5)" class="wm">ПодшипникРу</text>
<text transform="translate(392,68) rotate(36.5)" class="wm">ПодшипникРу</text>
<text transform="translate(682,68) rotate(36.5)" class="wm">ПодшипникРу</text>
<text transform="translate(-46,263) rotate(36.5)" class="wm">ПодшипникРу</text>
<text transform="translate(247,263) rotate(36.5)" class="wm">ПодшипникРу</text>
<text transform="translate(537,263) rotate(36.5)" class="wm">ПодшипникРу</text>
<text transform="translate(827,263) rotate(36.5)" class="wm">ПодшипникРу</text>
<text transform="translate(102,456) rotate(36.5)" class="wm">ПодшипникРу</text>
<text transform="translate(392,456) rotate(36.5)" class="wm">ПодшипникРу</text>
<text transform="translate(682,456) rotate(36.5)" class="wm">ПодшипникРу</text>
</svg>
</body></html>
